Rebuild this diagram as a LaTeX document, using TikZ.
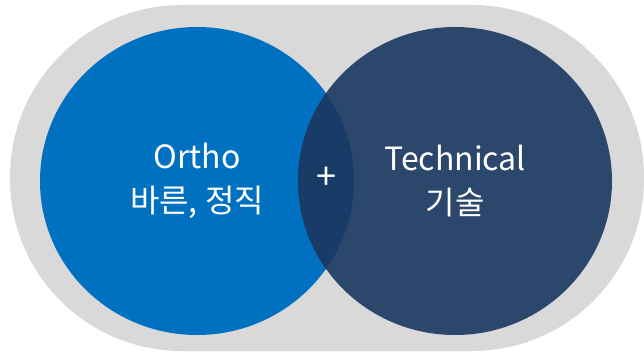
\documentclass[tikz,border=0pt]{standalone}
\usepackage{fontspec}
\setmainfont{Noto Sans CJK KR}
\usetikzlibrary{positioning}
\definecolor{bgray}{HTML}{D9D9D9}
\definecolor{oblue}{HTML}{0070C0}
\definecolor{tnavy}{HTML}{2C476C}
\definecolor{mixnavy}{HTML}{183B68}
\tikzset{
  ring/.style={ellipse, minimum width=314pt, minimum height=308pt, inner sep=0pt},
  label/.style={text=white, font=\fontsize{32}{44}\selectfont, align=center}
}
\usetikzlibrary{shapes.geometric}
\begin{document}
\begin{tikzpicture}[x=1pt, y=-1pt]
	\useasboundingbox (0,0) rectangle (644,355);
	\fill[bgray, rounded corners=172pt] (10,5) rectangle (644,351);

	\node[ring, fill=oblue] (ortho) at (197,181) {};
	\node[ring, fill=tnavy] (tech)  at (455,181) {};
	% overlap of the two circles
	\begin{scope}
		\clip (197,181) ellipse [x radius=157pt, y radius=154pt];
		\fill[mixnavy] (455,181) ellipse [x radius=157pt, y radius=154pt];
	\end{scope}

	\node[label] (orthotxt) at (ortho.center) {Ortho\\바른, 정직};
	\node[label] (techtxt)  at (tech.center)  {Technical\\기술};
	\node[text=white, font=\fontsize{36}{36}\selectfont] (plus) at (326,178) {+};
\end{tikzpicture}
\end{document}
